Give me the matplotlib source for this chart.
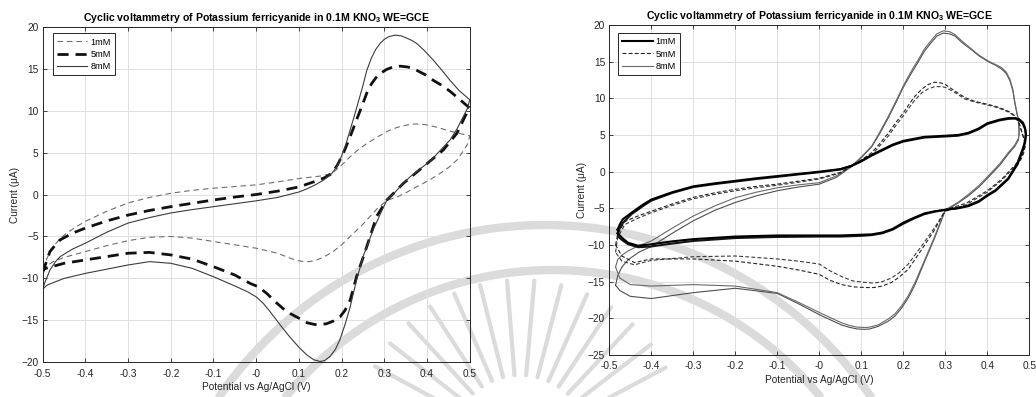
import matplotlib
matplotlib.use("Agg")
import matplotlib.pyplot as plt
import numpy as np

plt.rcParams['font.family'] = ['Liberation Sans', 'DejaVu Sans']
plt.rcParams['mathtext.fontset'] = 'custom'
plt.rcParams['mathtext.rm'] = 'Liberation Sans'
plt.rcParams['mathtext.bf'] = 'Liberation Sans:bold'

TITLE = r'Cyclic voltammetry of Potassium ferricyanide in 0.1M KNO$_\mathbf{3}$ WE=GCE'
XLABEL = 'Potential vs Ag/AgCl (V)'
YLABEL = 'Current (μA)'
labels = ['1mM', '5mM', '8mM']

# ---- single scans (left panel): potential (V) and current (uA) ----
left_1mM_E = [-0.5, -0.49, -0.475, -0.46, -0.444, -0.42, -0.4, -0.35, -0.3, -0.25, -0.2, -0.15, -0.1,
              -0.05, 0.0, 0.05, 0.1, 0.15, 0.177, 0.2, 0.22, 0.24, 0.26, 0.285, 0.31, 0.33, 0.35, 0.37,
              0.385, 0.4, 0.425, 0.45, 0.475, 0.5,
              0.495, 0.485, 0.47, 0.45, 0.43, 0.405, 0.376, 0.35, 0.33, 0.306, 0.285, 0.267, 0.245,
              0.22, 0.2, 0.18, 0.16, 0.142, 0.125, 0.11, 0.095, 0.08, 0.05, 0.0,
              -0.05, -0.1, -0.15, -0.2, -0.25, -0.3, -0.35, -0.4, -0.45, -0.475, -0.5]
left_1mM_I = [-8.9, -7.6, -6.2, -5.3, -4.6, -3.8, -3.2, -2.0, -1.0, -0.35, 0.15, 0.5, 0.75,
              0.95, 1.15, 1.5, 1.9, 2.2, 2.5, 3.5, 4.5, 5.4, 6.1, 6.9, 7.6, 8.0, 8.25, 8.4,
              8.4, 8.3, 8.0, 7.6, 7.3, 7.0,
              6.0, 5.2, 4.1, 3.2, 2.5, 1.7, 0.93, 0.2, -0.3, -0.7, -1.6, -2.6, -3.8,
              -5.0, -6.0, -6.8, -7.4, -7.8, -8.0, -8.0, -7.85, -7.6, -7.0, -6.4,
              -6.0, -5.6, -5.2, -5.0, -5.1, -5.5, -6.1, -6.8, -7.5, -8.0, -8.8]

left_5mM_E = [-0.5, -0.49, -0.483, -0.47, -0.459, -0.43, -0.4, -0.35, -0.3, -0.25, -0.2, -0.15, -0.1,
              -0.05, 0.0, 0.05, 0.1, 0.14, 0.16, 0.177, 0.19, 0.204, 0.22, 0.235, 0.248, 0.259, 0.27,
              0.28, 0.29, 0.305, 0.32, 0.337, 0.355, 0.376, 0.395, 0.415, 0.435, 0.454, 0.475, 0.5,
              0.49, 0.47, 0.438, 0.391, 0.345, 0.313, 0.306, 0.282, 0.259, 0.235, 0.22, 0.208,
              0.196, 0.18, 0.165, 0.15, 0.138, 0.12, 0.102, 0.08, 0.063, 0.045, 0.025, 0.005,
              -0.014, -0.05, -0.1, -0.15, -0.2, -0.25, -0.3, -0.35, -0.4, -0.45, -0.5]
left_5mM_I = [-9.3, -7.8, -6.8, -6.0, -5.4, -4.6, -4.0, -3.15, -2.45, -1.9, -1.45, -1.05, -0.65,
              -0.3, 0.0, 0.4, 0.9, 1.6, 2.0, 2.5, 3.5, 4.9, 6.9, 8.9, 10.6, 12.1, 13.2,
              13.9, 14.4, 14.9, 15.2, 15.3, 15.2, 14.8, 14.3, 13.6, 13.0, 12.3, 11.4, 10.3,
              9.4, 7.3, 5.3, 3.3, 1.35, -0.3, -0.65, -2.6, -6.2, -9.8, -12.6, -13.8,
              -14.6, -15.1, -15.4, -15.5, -15.5, -15.3, -14.8, -14.2, -13.6, -12.8, -11.8, -11.0,
              -10.6, -9.6, -8.6, -7.7, -7.2, -6.9, -7.0, -7.4, -7.8, -8.2, -8.9]

left_8mM_E = [-0.5, -0.495, -0.483, -0.47, -0.459, -0.43, -0.4, -0.35, -0.3, -0.25, -0.2, -0.15, -0.1,
              -0.05, 0.0, 0.05, 0.1, 0.12, 0.14, 0.16, 0.177, 0.19, 0.2, 0.21, 0.22, 0.23, 0.24, 0.25,
              0.259, 0.27, 0.28, 0.29, 0.3, 0.31, 0.325, 0.34, 0.35, 0.365, 0.376, 0.395, 0.415,
              0.435, 0.454, 0.475, 0.5,
              0.495, 0.485, 0.47, 0.454, 0.43, 0.41, 0.385, 0.36, 0.34, 0.321, 0.306, 0.29, 0.274,
              0.251, 0.235, 0.22, 0.208, 0.196, 0.185, 0.173, 0.16, 0.15, 0.135, 0.118, 0.1, 0.079,
              0.06, 0.048, 0.03, 0.017, 0.0, -0.02, -0.05, -0.1, -0.15, -0.2, -0.25, -0.3, -0.35,
              -0.4, -0.45, -0.49, -0.5]
left_8mM_I = [-11.3, -10.5, -9.0, -8.0, -7.4, -6.5, -5.8, -4.5, -3.4, -2.75, -2.2, -1.8, -1.45,
              -1.1, -0.75, -0.35, 0.3, 0.7, 1.2, 1.8, 2.5, 3.4, 4.6, 6.0, 7.7, 9.4, 11.2, 13.0,
              14.8, 16.3, 17.3, 18.0, 18.5, 18.8, 19.0, 18.9, 18.7, 18.35, 18.0, 17.1, 16.0,
              14.8, 13.6, 12.4, 11.3,
              10.3, 9.3, 7.8, 6.5, 5.2, 4.1, 3.1, 2.1, 1.1, 0.05, -0.65, -2.4, -4.2,
              -7.3, -10.2, -13.4, -15.5, -17.3, -18.5, -19.3, -19.8, -19.9, -19.7, -19.1, -18.2, -17.0,
              -15.8, -15.0, -13.8, -13.0, -12.2, -11.6, -10.9, -9.8, -8.8, -8.2, -8.0, -8.4, -8.9,
              -9.4, -10.0, -10.8, -11.3]

# ---- repeated cycles (right panel), two traces per concentration ----
right_1mM_E = [-0.48, -0.475, -0.468, -0.447, -0.42, -0.4, -0.35, -0.3, -0.25, -0.2, -0.15, -0.1, -0.05,
               0.0, 0.05, 0.077, 0.1, 0.125, 0.15, 0.175, 0.2, 0.25, 0.3, 0.33, 0.355, 0.38, 0.4,
               0.43, 0.45, 0.465, 0.475, 0.485, 0.49, 0.492,
               0.49, 0.485, 0.472, 0.45, 0.42, 0.4, 0.38, 0.355, 0.33, 0.3, 0.275, 0.25, 0.225,
               0.2, 0.175, 0.15, 0.125, 0.1, 0.05, 0.0, -0.1, -0.2, -0.3, -0.35, -0.4, -0.431,
               -0.455, -0.47, -0.478, -0.48]
right_1mM_I = [-7.9, -7.2, -6.5, -5.6, -4.5, -3.8, -2.8, -2.0, -1.6, -1.25, -0.9, -0.6, -0.3,
               0.0, 0.35, 0.8, 1.45, 2.3, 3.0, 3.7, 4.2, 4.75, 4.9, 5.0, 5.3, 5.9, 6.6,
               7.1, 7.3, 7.3, 7.1, 6.5, 5.8, 5.0,
               4.0, 3.0, 1.0, -1.0, -2.6, -3.3, -4.1, -4.7, -5.0, -5.2, -5.4, -5.7, -6.3,
               -6.95, -7.8, -8.3, -8.55, -8.6, -8.7, -8.7, -8.7, -8.85, -9.2, -9.5, -9.9, -10.1,
               -9.7, -9.0, -8.5, -7.9]
right_1mM_b_I = [-8.4, -7.7, -7.0, -5.8, -4.7, -3.95, -2.9, -2.1, -1.7, -1.35, -1.0, -0.7, -0.38,
                 -0.08, 0.3, 0.8, 1.4, 2.2, 2.9, 3.6, 4.1, 4.65, 4.8, 4.9, 5.2, 5.8, 6.5,
                 7.0, 7.2, 7.25, 7.2, 6.7, 6.0, 5.2,
                 4.2, 3.2, 1.2, -0.9, -2.5, -3.2, -4.0, -4.6, -4.95, -5.2, -5.45, -5.8, -6.4,
                 -7.1, -7.9, -8.4, -8.65, -8.75, -8.85, -8.85, -8.9, -9.05, -9.45, -9.8, -10.2, -10.3,
                 -9.9, -9.3, -8.9, -8.4]

right_5mM_E = [-0.485, -0.48, -0.463, -0.43, -0.4, -0.35, -0.3, -0.25, -0.2, -0.15, -0.1, -0.05, 0.0,
               0.05, 0.077, 0.1, 0.125, 0.145, 0.165, 0.185, 0.2, 0.215, 0.228, 0.245, 0.26, 0.275,
               0.29, 0.3, 0.32, 0.347, 0.37, 0.4, 0.42, 0.44, 0.455, 0.466, 0.476, 0.482, 0.488, 0.49,
               0.486, 0.48, 0.466, 0.434, 0.4, 0.35, 0.3, 0.275, 0.244, 0.212, 0.19, 0.172, 0.15,
               0.13, 0.109, 0.08, 0.053, 0.025, 0.0, -0.05, -0.1, -0.2, -0.3, -0.4, -0.44, -0.47, -0.485]
right_5mM_I = [-10.0, -8.5, -6.8, -6.0, -5.4, -4.4, -3.5, -2.9, -2.4, -2.0, -1.7, -1.3, -0.9,
               -0.1, 0.8, 1.6, 2.6, 3.9, 5.3, 6.9, 8.0, 9.3, 10.3, 11.3, 11.9, 12.2,
               12.1, 11.9, 11.1, 10.1, 9.6, 9.2, 8.9, 8.5, 8.1, 7.6, 6.6, 5.5, 4.4, 3.5,
               2.6, 1.8, 0.9, -1.05, -2.6, -4.3, -5.2, -7.9, -10.6, -13.3, -14.4, -15.1, -15.6,
               -15.8, -15.8, -15.7, -15.4, -14.8, -14.0, -13.4, -12.9, -12.2, -11.9, -11.9, -12.4, -11.5, -10.0]
right_5mM_b_I = [-11.0, -9.0, -7.2, -6.3, -5.6, -4.6, -3.7, -3.1, -2.6, -2.2, -1.85, -1.45, -1.0,
                 -0.2, 0.7, 1.4, 2.3, 3.6, 4.9, 6.5, 7.6, 8.8, 9.8, 10.8, 11.3, 11.6,
                 11.6, 11.5, 10.9, 9.9, 9.5, 9.1, 8.8, 8.4, 8.0, 7.5, 6.5, 5.4, 4.3, 3.3,
                 2.4, 1.6, 0.7, -1.2, -2.8, -4.5, -5.4, -7.6, -10.1, -12.6, -13.8, -14.5, -15.0,
                 -15.2, -15.1, -14.9, -14.3, -13.5, -12.6, -12.2, -11.9, -11.5, -11.6, -12.1, -12.7, -12.2, -11.0]

right_8mM_E = [-0.485, -0.48, -0.47, -0.455, -0.43, -0.4, -0.35, -0.3, -0.25, -0.2, -0.15, -0.1, -0.05,
               0.0, 0.04, 0.077, 0.1, 0.125, 0.145, 0.165, 0.185, 0.2, 0.218, 0.236, 0.25, 0.268, 0.28,
               0.295, 0.31, 0.323, 0.34, 0.363, 0.38, 0.402, 0.42, 0.434, 0.445, 0.454, 0.461, 0.466,
               0.474, 0.476, 0.474, 0.465, 0.45, 0.43, 0.402, 0.38, 0.355, 0.33, 0.3, 0.275, 0.252,
               0.228, 0.212, 0.196, 0.18, 0.164, 0.14, 0.12, 0.109, 0.09, 0.07, 0.053, 0.03, 0.0,
               -0.05, -0.1, -0.2, -0.3, -0.4, -0.45, -0.475, -0.485]
right_8mM_I = [-13.0, -12.0, -11.4, -10.8, -10.1, -9.45, -7.7, -6.05, -4.7, -3.55, -2.8, -2.2, -1.8,
               -1.5, -0.6, 0.8, 2.0, 3.5, 5.5, 7.6, 9.9, 11.7, 13.6, 15.3, 16.7, 18.0, 18.8,
               19.2, 19.1, 18.7, 17.8, 16.7, 15.9, 15.1, 14.6, 14.2, 13.6, 12.6, 11.2, 9.4,
               7.1, 5.5, 4.5, 3.6, 2.6, 1.1, -0.6, -1.9, -3.1, -4.2, -5.2, -8.8, -11.9,
               -15.1, -16.9, -18.3, -19.4, -20.1, -20.9, -21.2, -21.25, -21.2, -20.95, -20.6, -20.0, -19.2,
               -17.8, -16.5, -15.6, -15.4, -15.6, -15.4, -14.5, -13.0]
right_8mM_b_I = [-15.5, -14.2, -13.0, -12.0, -11.0, -10.2, -8.4, -6.7, -5.3, -4.2, -3.3, -2.6, -2.1,
                 -1.7, -0.8, 0.7, 1.9, 3.4, 5.3, 7.4, 9.7, 11.5, 13.3, 15.0, 16.4, 17.7, 18.5,
                 18.9, 18.8, 18.5, 17.6, 16.6, 15.8, 15.0, 14.5, 14.0, 13.4, 12.4, 11.0, 9.2,
                 7.0, 5.3, 4.3, 3.4, 2.4, 0.9, -0.8, -2.1, -3.3, -4.3, -5.3, -9.0, -12.1,
                 -15.4, -17.2, -18.6, -19.7, -20.4, -21.1, -21.45, -21.5, -21.45, -21.2, -20.9, -20.3, -19.5,
                 -18.0, -16.6, -15.9, -16.5, -17.3, -17.0, -16.2, -15.5]

# ---- figure ----
W, H = 1036, 397
fig = plt.figure(figsize=(W / 100, H / 100), dpi=100)

# faint logo watermark in the background (pixel coordinates)
bg = fig.add_axes([0, 0, 1, 1], zorder=-1)
bg.set_xlim(0, W)
bg.set_ylim(H, 0)
bg.axis('off')
wm = '#dbdbdb'
for (cx, cy, r) in ((545, 620, 395), (553, 615, 345)):
    th = np.radians(np.linspace(25, 155, 200))
    bg.plot(cx + r * np.cos(th), cy - r * np.sin(th), color=wm, lw=6.0, solid_capstyle='butt')
for ang in np.arange(28, 160, 9.5):
    a = np.radians(ang)
    bg.plot([520 + 70 * np.cos(a), 520 + 165 * np.cos(a)],
            [445 - 70 * np.sin(a), 445 - 165 * np.sin(a)],
            color=wm, lw=3.0, solid_capstyle='round')

axL = fig.add_axes([0.0412, 0.0874, 0.4122, 0.8453], facecolor='none')
axR = fig.add_axes([0.5881, 0.1058, 0.4054, 0.8312], facecolor='none')

axis_col = '#262626'


def style_axes(ax, ylim):
    ax.set_xlim(-0.5, 0.5)
    ax.set_ylim(*ylim)
    xt = np.round(np.arange(-0.5, 0.51, 0.1), 1)
    ax.set_xticks(xt)
    ax.set_xticklabels([('%g' % v) for v in xt])
    ax.set_yticks(np.arange(ylim[0], ylim[1] + 1, 5))
    ax.grid(True, color='#dfdfdf', linewidth=0.7)
    ax.set_axisbelow(True)
    ax.tick_params(direction='in', length=3, width=0.6, labelsize=7.3, colors=axis_col,
                   top=True, right=True)
    ax.tick_params(axis='x', pad=4.5)
    ax.tick_params(axis='y', pad=3)
    for s in ax.spines.values():
        s.set_color(axis_col)
        s.set_linewidth(0.7)
    ax.set_title(TITLE, fontsize=7.6, fontweight='bold', color='black', pad=4)
    ax.set_xlabel(XLABEL, fontsize=7.3, color=axis_col, labelpad=2.5)
    ax.set_ylabel(YLABEL, fontsize=7.3, color=axis_col, labelpad=1)


kw = dict(solid_joinstyle='round', dash_joinstyle='round')

# left panel
h1, = axL.plot(left_1mM_E, left_1mM_I, color='#6e6e6e', lw=0.8, ls=(0, (5, 3.5)), **kw)
h5, = axL.plot(left_5mM_E, left_5mM_I, color='#111111', lw=2.0, ls=(0, (4, 2.5)), **kw)
h8, = axL.plot(left_8mM_E, left_8mM_I, color='#3c3c3c', lw=0.8, ls='-', **kw)
style_axes(axL, (-20, 20))
legL = axL.legend([h1, h5, h8], labels, loc='upper left', bbox_to_anchor=(0.0234, 0.98),
                  borderaxespad=0, fontsize=6.6, frameon=True, fancybox=False,
                  edgecolor='#262626', framealpha=1, borderpad=0.45, labelspacing=0.35,
                  handlelength=3.3, handletextpad=0.35)
legL.get_frame().set_linewidth(0.7)

# right panel
axR.plot(right_8mM_E, right_8mM_b_I, color='#505050', lw=0.8, **kw)
r8, = axR.plot(right_8mM_E, right_8mM_I, color='#6a6a6a', lw=0.8, **kw)
axR.plot(right_5mM_E, right_5mM_b_I, color='#3a3a3a', lw=0.8, ls=(0, (3.5, 2)), **kw)
r5, = axR.plot(right_5mM_E, right_5mM_I, color='#222222', lw=0.8, ls=(0, (3.5, 2)), **kw)
axR.plot(right_1mM_E, right_1mM_b_I, color='#151515', lw=1.5, **kw)
r1, = axR.plot(right_1mM_E, right_1mM_I, color='#000000', lw=1.5, **kw)
style_axes(axR, (-25, 20))
legR = axR.legend([r1, r5, r8], labels, loc='upper left', bbox_to_anchor=(0.0214, 0.975),
                  borderaxespad=0, fontsize=6.6, frameon=True, fancybox=False,
                  edgecolor='#262626', framealpha=1, borderpad=0.45, labelspacing=0.35,
                  handlelength=3.3, handletextpad=0.35)
legR.get_frame().set_linewidth(0.7)

fig.savefig('out.png', dpi=100)
